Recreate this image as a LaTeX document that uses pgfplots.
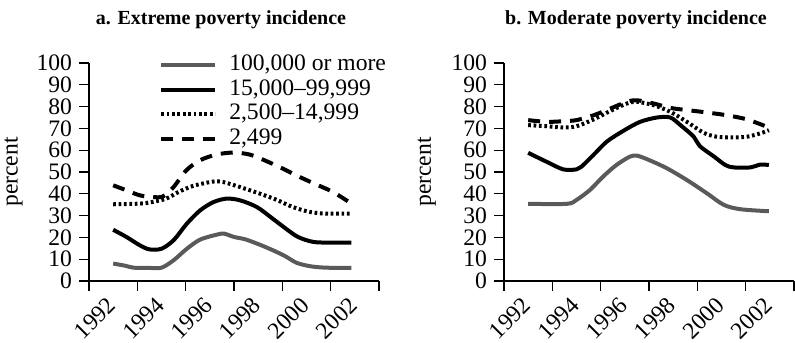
\documentclass[border=0pt]{standalone}
\usepackage{fontspec}
\setmainfont{Liberation Serif}
\usepackage{pgfplots}
\pgfplotsset{compat=1.18}

\definecolor{darkgrey}{RGB}{90,90,90}

\pgfplotsset{
  panel/.style={
    scale only axis, width=145pt, height=109pt,
    xmin=1992, xmax=2004, ymin=0, ymax=100,
    axis lines=left,
    axis line style={-, line width=1pt, black},
    xtick={1992,1994,...,2004},
    xticklabels={1992,1994,1996,1998,2000,2002,},
    ytick={0,10,...,100},
    tick align=outside,
    major tick length=5pt,
    tick style={line width=0.6pt, black},
    /pgf/number format/assume math mode=true,
    xticklabel style={anchor=center, xshift=3pt, yshift=-13.5pt, rotate=45},
    ylabel={percent},
    ylabel style={at={(axis description cs:-0.26,0.5)}, anchor=center},
    title style={at={(axis description cs:0.455,1)}, anchor=base, yshift=13pt, font=\bfseries},
    clip=false,
  },
  g100k/.style={darkgrey, line width=2pt, smooth},
  g15k/.style={black, line width=2pt, smooth},
  g2500/.style={black, line width=2pt, smooth, dash pattern=on 1.35pt off 1.35pt},
  g2499/.style={black, line width=2pt, smooth, dash pattern=on 6pt off 4.5pt},
}

\begin{document}
\begin{tikzpicture}[font=\fontsize{11.8}{14}\selectfont]
\useasboundingbox (-44.5pt,-30.5pt) rectangle (353pt,140.5pt);

% a. Extreme poverty
\begin{axis}[panel, at={(0pt,0pt)}, anchor=south west,
  title={a. Extreme poverty incidence},
  legend style={at={(axis description cs:0.241,1.04)}, anchor=north west,
    draw=none, fill=none, inner sep=0pt, row sep=1.75pt,
    nodes={inner sep=0pt, text height=8pt, text depth=2.5pt}},
  legend cell align=left,
  legend image code/.code={\draw[#1] (0pt,0pt) -- (27pt,0pt);},
  /tikz/every even column/.append style={column sep=0pt},
  /tikz/every odd column/.append style={column sep=6pt},
]
\addplot[g100k] coordinates {
  (1993,8.0) (1993.5,7.0) (1993.85,6.1) (1994.5,6.0) (1995,6.1) (1995.5,9.5)
  (1996.05,14.8) (1996.6,19.0) (1997.3,21.3) (1997.6,21.7) (1998,20.2)
  (1998.5,19.0) (1999.3,15.6) (2000.05,11.8) (2000.6,8.3) (2001.2,6.7)
  (2001.85,6.1) (2002.86,6.0)
};
\addlegendentry{100,000 or more}
\addplot[g15k] coordinates {
  (1993,23.5) (1993.55,20.2) (1994.1,16.4) (1994.5,14.5) (1995,14.8)
  (1995.5,18.7) (1996.05,26.3) (1996.6,32.4) (1997.15,36.2) (1997.7,37.8)
  (1998.25,37.0) (1998.95,33.9) (1999.6,28.6) (2000.15,24.0) (2000.65,20.2)
  (2001.3,17.9) (2002.2,17.6) (2002.86,17.6)
};
\addlegendentry{15,000–99,999}
\addplot[g2500] coordinates {
  (1993,35.2) (1994.1,35.5) (1994.6,36.2) (1995.2,37.8) (1995.7,40.8)
  (1996.3,43.6) (1997.13,45.6) (1997.55,45.4) (1998.25,43.1) (1999.06,40.1)
  (1999.75,37.3) (2000.44,33.9) (2001.13,31.7) (2001.8,30.9) (2002.86,30.9)
};
\addlegendentry{2,500–14,999}
\addplot[g2499] coordinates {
  (1993,43.9) (1993.55,41.6) (1994.1,39.3) (1994.65,38.5) (1995.06,38.8)
  (1995.5,43.1) (1996.03,50.8) (1996.6,55.4) (1997.27,58.0) (1997.96,58.9)
  (1998.65,58.0) (1999.34,55.0) (2000.03,51.5) (2000.72,47.7) (2001.4,44.3)
  (2002.1,40.8) (2002.86,35.5)
};
\addlegendentry{2,499}
\end{axis}

% b. Moderate poverty
\begin{axis}[panel, at={(207.5pt,0pt)}, anchor=south west,
  title={b. Moderate poverty incidence},
  ylabel style={at={(axis description cs:-0.266,0.5)}},
]
\addplot[g100k] coordinates {
  (1993,35.4) (1994.6,35.4) (1995,37.2) (1995.56,41.8) (1996.1,47.9)
  (1996.65,53.2) (1997.2,57.0) (1997.5,57.5) (1998,55.5) (1998.74,51.7)
  (1999.57,46.3) (2000.4,40.2) (2001.1,34.9) (2001.8,32.9) (2002.96,32.0)
};
\addplot[g15k] coordinates {
  (1993,58.8) (1993.76,54.7) (1994.45,51.2) (1995,51.2) (1995.2,52.4)
  (1995.7,57.8) (1996.25,63.9) (1996.94,68.9) (1997.63,73.0) (1998.33,75.0)
  (1998.88,75.0) (1999.3,71.5) (1999.85,66.2) (2000.1,61.9) (2000.7,57.0)
  (2001.16,53.2) (2001.5,52.1) (2002.2,52.1) (2002.6,53.4) (2002.96,53.2)
};
\addplot[g2500] coordinates {
  (1993,71.5) (1993.76,71.0) (1994.45,70.4) (1995,71.0) (1995.7,74.1)
  (1996.4,78.0) (1997.08,81.4) (1997.5,82.2) (1998.2,80.6) (1998.88,77.6)
  (1999.57,73.0) (2000.26,68.0) (2000.8,66.2) (2001.5,65.9) (2002.06,66.2)
  (2002.6,67.7) (2002.96,69.2)
};
\addplot[g2499] coordinates {
  (1993,73.8) (1993.76,73.0) (1994.45,73.3) (1995,73.8) (1995.7,76.0)
  (1996.4,79.1) (1997.08,82.2) (1997.5,82.9) (1998.2,81.4) (1998.88,79.4)
  (1999.57,78.4) (2000.4,77.3) (2001.23,76.0) (2002.06,74.1) (2002.96,70.4)
};
\end{axis}
\end{tikzpicture}
\end{document}
